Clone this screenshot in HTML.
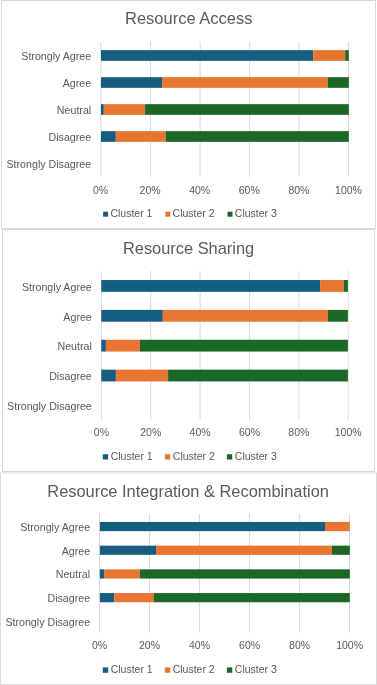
<!DOCTYPE html>
<html><head><meta charset="utf-8"><style>
html,body{margin:0;padding:0;background:#fff;}
svg{display:block;will-change:transform;}
text{font-family:"Liberation Sans",sans-serif;}
</style></head><body>
<svg width="377" height="685" viewBox="0 0 377 685" font-family="Liberation Sans, sans-serif">
<rect x="1.5" y="0.5" width="374" height="228" fill="#fff" stroke="#d9d9d9" stroke-width="1"/>
<text x="188.75" y="23.6" text-anchor="middle" font-size="16.5" fill="#595959">Resource Access</text>
<line x1="100.80" y1="42" x2="100.80" y2="177" stroke="#d9d9d9" stroke-width="1"/>
<line x1="150.50" y1="42" x2="150.50" y2="177" stroke="#d9d9d9" stroke-width="1"/>
<line x1="200.10" y1="42" x2="200.10" y2="177" stroke="#d9d9d9" stroke-width="1"/>
<line x1="249.70" y1="42" x2="249.70" y2="177" stroke="#d9d9d9" stroke-width="1"/>
<line x1="299.10" y1="42" x2="299.10" y2="177" stroke="#d9d9d9" stroke-width="1"/>
<line x1="348.60" y1="42" x2="348.60" y2="177" stroke="#d9d9d9" stroke-width="1"/>
<text x="91.2" y="60.30" text-anchor="end" font-size="10.67" fill="#595959">Strongly Agree</text>
<rect x="101.00" y="50.15" width="212.20" height="10.70" fill="#165e80"/>
<rect x="313.20" y="50.15" width="32.00" height="10.70" fill="#e97532"/>
<rect x="345.20" y="50.15" width="3.60" height="10.70" fill="#1b6826"/>
<text x="91.2" y="87.30" text-anchor="end" font-size="10.67" fill="#595959">Agree</text>
<rect x="101.00" y="77.15" width="61.10" height="10.70" fill="#165e80"/>
<rect x="162.10" y="77.15" width="165.60" height="10.70" fill="#e97532"/>
<rect x="327.70" y="77.15" width="21.10" height="10.70" fill="#1b6826"/>
<text x="91.2" y="114.30" text-anchor="end" font-size="10.67" fill="#595959">Neutral</text>
<rect x="101.00" y="104.15" width="2.80" height="10.70" fill="#165e80"/>
<rect x="103.80" y="104.15" width="41.30" height="10.70" fill="#e97532"/>
<rect x="145.10" y="104.15" width="203.70" height="10.70" fill="#1b6826"/>
<text x="91.2" y="141.30" text-anchor="end" font-size="10.67" fill="#595959">Disagree</text>
<rect x="101.00" y="131.15" width="14.80" height="10.70" fill="#165e80"/>
<rect x="115.80" y="131.15" width="50.20" height="10.70" fill="#e97532"/>
<rect x="166.00" y="131.15" width="182.80" height="10.70" fill="#1b6826"/>
<text x="91.2" y="168.30" text-anchor="end" font-size="10.67" fill="#595959">Strongly Disagree</text>
<text x="100.50" y="193.5" text-anchor="middle" font-size="10.5" fill="#595959">0%</text>
<text x="150.10" y="193.5" text-anchor="middle" font-size="10.5" fill="#595959">20%</text>
<text x="199.70" y="193.5" text-anchor="middle" font-size="10.5" fill="#595959">40%</text>
<text x="249.30" y="193.5" text-anchor="middle" font-size="10.5" fill="#595959">60%</text>
<text x="298.90" y="193.5" text-anchor="middle" font-size="10.5" fill="#595959">80%</text>
<text x="348.50" y="193.5" text-anchor="middle" font-size="10.5" fill="#595959">100%</text>
<rect x="103.10" y="211.70" width="5" height="5" fill="#165e80"/>
<text x="110.40" y="216.8" font-size="10.5" fill="#595959">Cluster 1</text>
<rect x="165.30" y="211.70" width="5" height="5" fill="#e97532"/>
<text x="172.60" y="216.8" font-size="10.5" fill="#595959">Cluster 2</text>
<rect x="227.50" y="211.70" width="5" height="5" fill="#1b6826"/>
<text x="234.80" y="216.8" font-size="10.5" fill="#595959">Cluster 3</text>
<rect x="2.5" y="229.5" width="372" height="242" fill="#fff" stroke="#d9d9d9" stroke-width="1"/>
<text x="188.55" y="253.5" text-anchor="middle" font-size="16.4" fill="#595959">Resource Sharing</text>
<line x1="101.40" y1="271" x2="101.40" y2="420" stroke="#d9d9d9" stroke-width="1"/>
<line x1="150.76" y1="271" x2="150.76" y2="420" stroke="#d9d9d9" stroke-width="1"/>
<line x1="200.12" y1="271" x2="200.12" y2="420" stroke="#d9d9d9" stroke-width="1"/>
<line x1="249.48" y1="271" x2="249.48" y2="420" stroke="#d9d9d9" stroke-width="1"/>
<line x1="298.84" y1="271" x2="298.84" y2="420" stroke="#d9d9d9" stroke-width="1"/>
<line x1="348.20" y1="271" x2="348.20" y2="420" stroke="#d9d9d9" stroke-width="1"/>
<text x="91.8" y="290.63" text-anchor="end" font-size="10.67" fill="#595959">Strongly Agree</text>
<rect x="101.30" y="280.04" width="218.80" height="11.80" fill="#165e80"/>
<rect x="320.10" y="280.04" width="23.80" height="11.80" fill="#e97532"/>
<rect x="343.90" y="280.04" width="4.00" height="11.80" fill="#1b6826"/>
<text x="91.8" y="320.50" text-anchor="end" font-size="10.67" fill="#595959">Agree</text>
<rect x="101.30" y="309.91" width="61.50" height="11.80" fill="#165e80"/>
<rect x="162.80" y="309.91" width="165.20" height="11.80" fill="#e97532"/>
<rect x="328.00" y="309.91" width="19.90" height="11.80" fill="#1b6826"/>
<text x="91.8" y="350.38" text-anchor="end" font-size="10.67" fill="#595959">Neutral</text>
<rect x="101.30" y="339.78" width="4.60" height="11.80" fill="#165e80"/>
<rect x="105.90" y="339.78" width="34.00" height="11.80" fill="#e97532"/>
<rect x="139.90" y="339.78" width="208.00" height="11.80" fill="#1b6826"/>
<text x="91.8" y="380.25" text-anchor="end" font-size="10.67" fill="#595959">Disagree</text>
<rect x="101.30" y="369.65" width="14.60" height="11.80" fill="#165e80"/>
<rect x="115.90" y="369.65" width="52.20" height="11.80" fill="#e97532"/>
<rect x="168.10" y="369.65" width="179.80" height="11.80" fill="#1b6826"/>
<text x="91.8" y="410.11" text-anchor="end" font-size="10.67" fill="#595959">Strongly Disagree</text>
<text x="101.40" y="436" text-anchor="middle" font-size="10.5" fill="#595959">0%</text>
<text x="150.76" y="436" text-anchor="middle" font-size="10.5" fill="#595959">20%</text>
<text x="200.12" y="436" text-anchor="middle" font-size="10.5" fill="#595959">40%</text>
<text x="249.48" y="436" text-anchor="middle" font-size="10.5" fill="#595959">60%</text>
<text x="298.84" y="436" text-anchor="middle" font-size="10.5" fill="#595959">80%</text>
<text x="348.20" y="436" text-anchor="middle" font-size="10.5" fill="#595959">100%</text>
<rect x="102.80" y="454.20" width="5.3" height="5.3" fill="#165e80"/>
<text x="110.70" y="459.9" font-size="10.5" fill="#595959">Cluster 1</text>
<rect x="164.90" y="454.20" width="5.3" height="5.3" fill="#e97532"/>
<text x="172.80" y="459.9" font-size="10.5" fill="#595959">Cluster 2</text>
<rect x="226.90" y="454.20" width="5.3" height="5.3" fill="#1b6826"/>
<text x="234.80" y="459.9" font-size="10.5" fill="#595959">Cluster 3</text>
<rect x="0.5" y="473.0" width="376" height="211.5" fill="#fff" stroke="#d9d9d9" stroke-width="1"/>
<text x="188.1" y="496.5" text-anchor="middle" font-size="16.4" fill="#595959">Resource Integration &amp; Recombination</text>
<line x1="99.50" y1="514" x2="99.50" y2="632.5" stroke="#d9d9d9" stroke-width="1"/>
<line x1="149.52" y1="514" x2="149.52" y2="632.5" stroke="#d9d9d9" stroke-width="1"/>
<line x1="199.54" y1="514" x2="199.54" y2="632.5" stroke="#d9d9d9" stroke-width="1"/>
<line x1="249.56" y1="514" x2="249.56" y2="632.5" stroke="#d9d9d9" stroke-width="1"/>
<line x1="299.58" y1="514" x2="299.58" y2="632.5" stroke="#d9d9d9" stroke-width="1"/>
<line x1="349.60" y1="514" x2="349.60" y2="632.5" stroke="#d9d9d9" stroke-width="1"/>
<text x="90.1" y="531.05" text-anchor="end" font-size="10.67" fill="#595959">Strongly Agree</text>
<rect x="99.90" y="521.95" width="225.10" height="9.20" fill="#165e80"/>
<rect x="325.00" y="521.95" width="24.80" height="9.20" fill="#e97532"/>
<text x="90.1" y="554.75" text-anchor="end" font-size="10.67" fill="#595959">Agree</text>
<rect x="99.90" y="545.65" width="56.10" height="9.20" fill="#165e80"/>
<rect x="156.00" y="545.65" width="176.00" height="9.20" fill="#e97532"/>
<rect x="332.00" y="545.65" width="17.80" height="9.20" fill="#1b6826"/>
<text x="90.1" y="578.45" text-anchor="end" font-size="10.67" fill="#595959">Neutral</text>
<rect x="99.90" y="569.35" width="4.20" height="9.20" fill="#165e80"/>
<rect x="104.10" y="569.35" width="35.80" height="9.20" fill="#e97532"/>
<rect x="139.90" y="569.35" width="209.90" height="9.20" fill="#1b6826"/>
<text x="90.1" y="602.15" text-anchor="end" font-size="10.67" fill="#595959">Disagree</text>
<rect x="99.90" y="593.05" width="14.40" height="9.20" fill="#165e80"/>
<rect x="114.30" y="593.05" width="39.70" height="9.20" fill="#e97532"/>
<rect x="154.00" y="593.05" width="195.80" height="9.20" fill="#1b6826"/>
<text x="90.1" y="625.85" text-anchor="end" font-size="10.67" fill="#595959">Strongly Disagree</text>
<text x="99.50" y="649.0" text-anchor="middle" font-size="10.5" fill="#595959">0%</text>
<text x="149.52" y="649.0" text-anchor="middle" font-size="10.5" fill="#595959">20%</text>
<text x="199.54" y="649.0" text-anchor="middle" font-size="10.5" fill="#595959">40%</text>
<text x="249.56" y="649.0" text-anchor="middle" font-size="10.5" fill="#595959">60%</text>
<text x="299.58" y="649.0" text-anchor="middle" font-size="10.5" fill="#595959">80%</text>
<text x="349.60" y="649.0" text-anchor="middle" font-size="10.5" fill="#595959">100%</text>
<rect x="102.80" y="667.40" width="5.4" height="5.4" fill="#165e80"/>
<text x="110.70" y="673.2" font-size="10.5" fill="#595959">Cluster 1</text>
<rect x="164.80" y="667.40" width="5.4" height="5.4" fill="#e97532"/>
<text x="172.70" y="673.2" font-size="10.5" fill="#595959">Cluster 2</text>
<rect x="226.90" y="667.40" width="5.4" height="5.4" fill="#1b6826"/>
<text x="234.80" y="673.2" font-size="10.5" fill="#595959">Cluster 3</text>
</svg>
</body></html>
